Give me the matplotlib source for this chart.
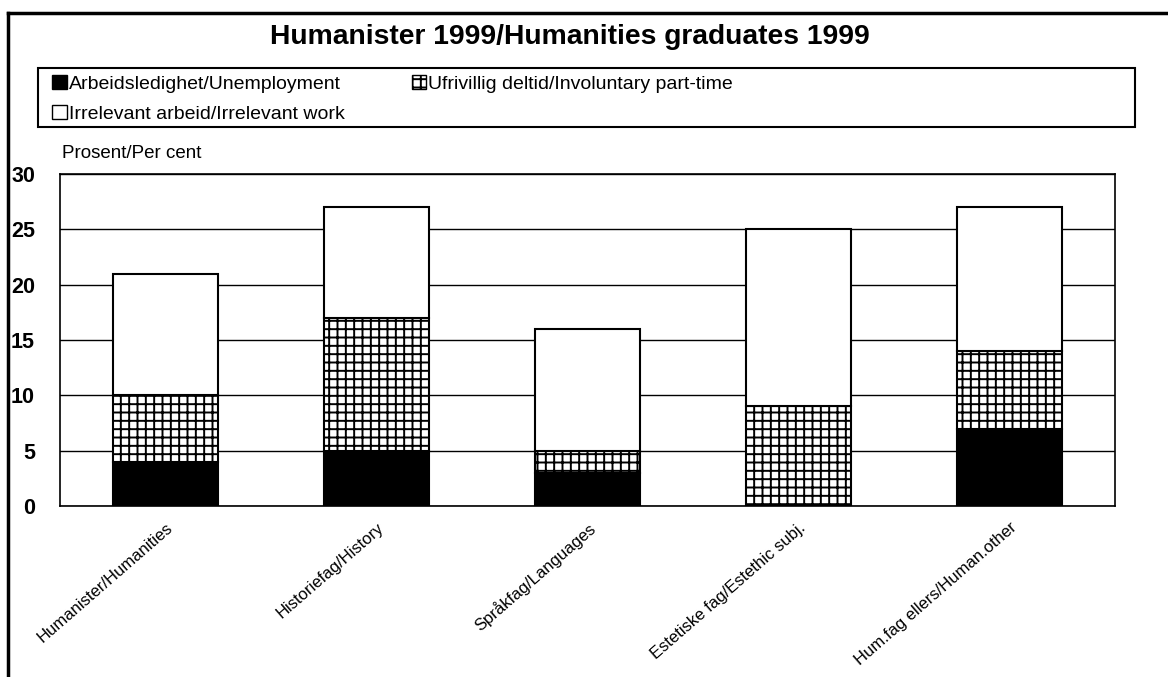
import matplotlib.pyplot as plt
from matplotlib.patches import Rectangle, Patch
from matplotlib.lines import Line2D
import numpy as np

plt.rcParams['font.family'] = ['Liberation Sans', 'DejaVu Sans']
plt.rcParams['hatch.linewidth'] = 1.4

categories = ["Humanister/Humanities", "Historiefag/History", "Språkfag/Languages",
              "Estetiske fag/Estethic subj.", "Hum.fag ellers/Human.other"]
unemployment = [4, 5, 3, 0, 7]
involuntary = [6, 12, 2, 9, 7]
irrelevant = [11, 10, 11, 16, 13]
series_names = ["Arbeidsledighet/Unemployment", "Ufrivillig deltid/Involuntary part-time",
                "Irrelevant arbeid/Irrelevant work"]
yticks = [0, 5, 10, 15, 20, 25, 30]

fig = plt.figure(figsize=(11.68, 6.77), dpi=100)
ax = fig.add_axes([0.0514, 0.2526, 0.9032, 0.4904])

x = np.arange(len(categories))
w = 0.5
b1 = np.array(unemployment)
b2 = b1 + np.array(involuntary)
ax.bar(x, unemployment, w, color='black', edgecolor='black', linewidth=1.5, zorder=3)
ax.bar(x, involuntary, w, bottom=b1, color='white', edgecolor='black',
       hatch='++', linewidth=1.5, zorder=3)
ax.bar(x, irrelevant, w, bottom=b2, color='white', edgecolor='black', linewidth=1.5, zorder=3)

ax.set_xlim(-0.5, len(categories) - 0.5)
ax.set_ylim(0, 30)
ax.set_yticks(yticks)
ax.set_yticklabels([str(t) for t in yticks], fontsize=15.5, fontweight='bold')
ax.tick_params(axis='y', length=0, pad=18)
ax.tick_params(axis='x', length=0, pad=10)
ax.set_xticks(x)
ax.set_xticklabels(categories, rotation=41, ha='right', va='top',
                   rotation_mode='anchor', fontsize=12)
ax.yaxis.grid(True, color='black', linewidth=1, zorder=0)
for s in ax.spines.values():
    s.set_linewidth(1.2)

ax.text(0.002, 1.035, "Prosent/Per cent", transform=ax.transAxes, fontsize=13.5,
        ha='left', va='bottom')

fig.text(0.488, 0.945, "Humanister 1999/Humanities graduates 1999",
         ha='center', va='center', fontsize=20.3, fontweight='bold')

# legend box
fig.add_artist(Rectangle((0.0325, 0.8124), 0.9392, 0.0872, transform=fig.transFigure,
                         fill=False, edgecolor='black', linewidth=1.5))
handles = [Patch(facecolor='black', edgecolor='black'),
           Patch(facecolor='white', edgecolor='black'),
           Patch(facecolor='white', edgecolor='black', hatch='++')]
labels = [series_names[0], series_names[2], series_names[1]]
fig.legend(handles, labels, loc='upper left', bbox_to_anchor=(0.033, 0.909), ncol=2,
           frameon=False, fontsize=14, handlelength=0.75, handleheight=0.75,
           handletextpad=0.1, columnspacing=3.45, labelspacing=0.6, borderpad=0.2)

# outer frame
fig.add_artist(Line2D([8 / 1168, 1], [1 - 13 / 677, 1 - 13 / 677], transform=fig.transFigure,
                      color='black', linewidth=2.5))
fig.add_artist(Line2D([8 / 1168, 8 / 1168], [0, 1 - 13 / 677], transform=fig.transFigure,
                      color='black', linewidth=2.5))

fig.savefig("out.png", dpi=100)
